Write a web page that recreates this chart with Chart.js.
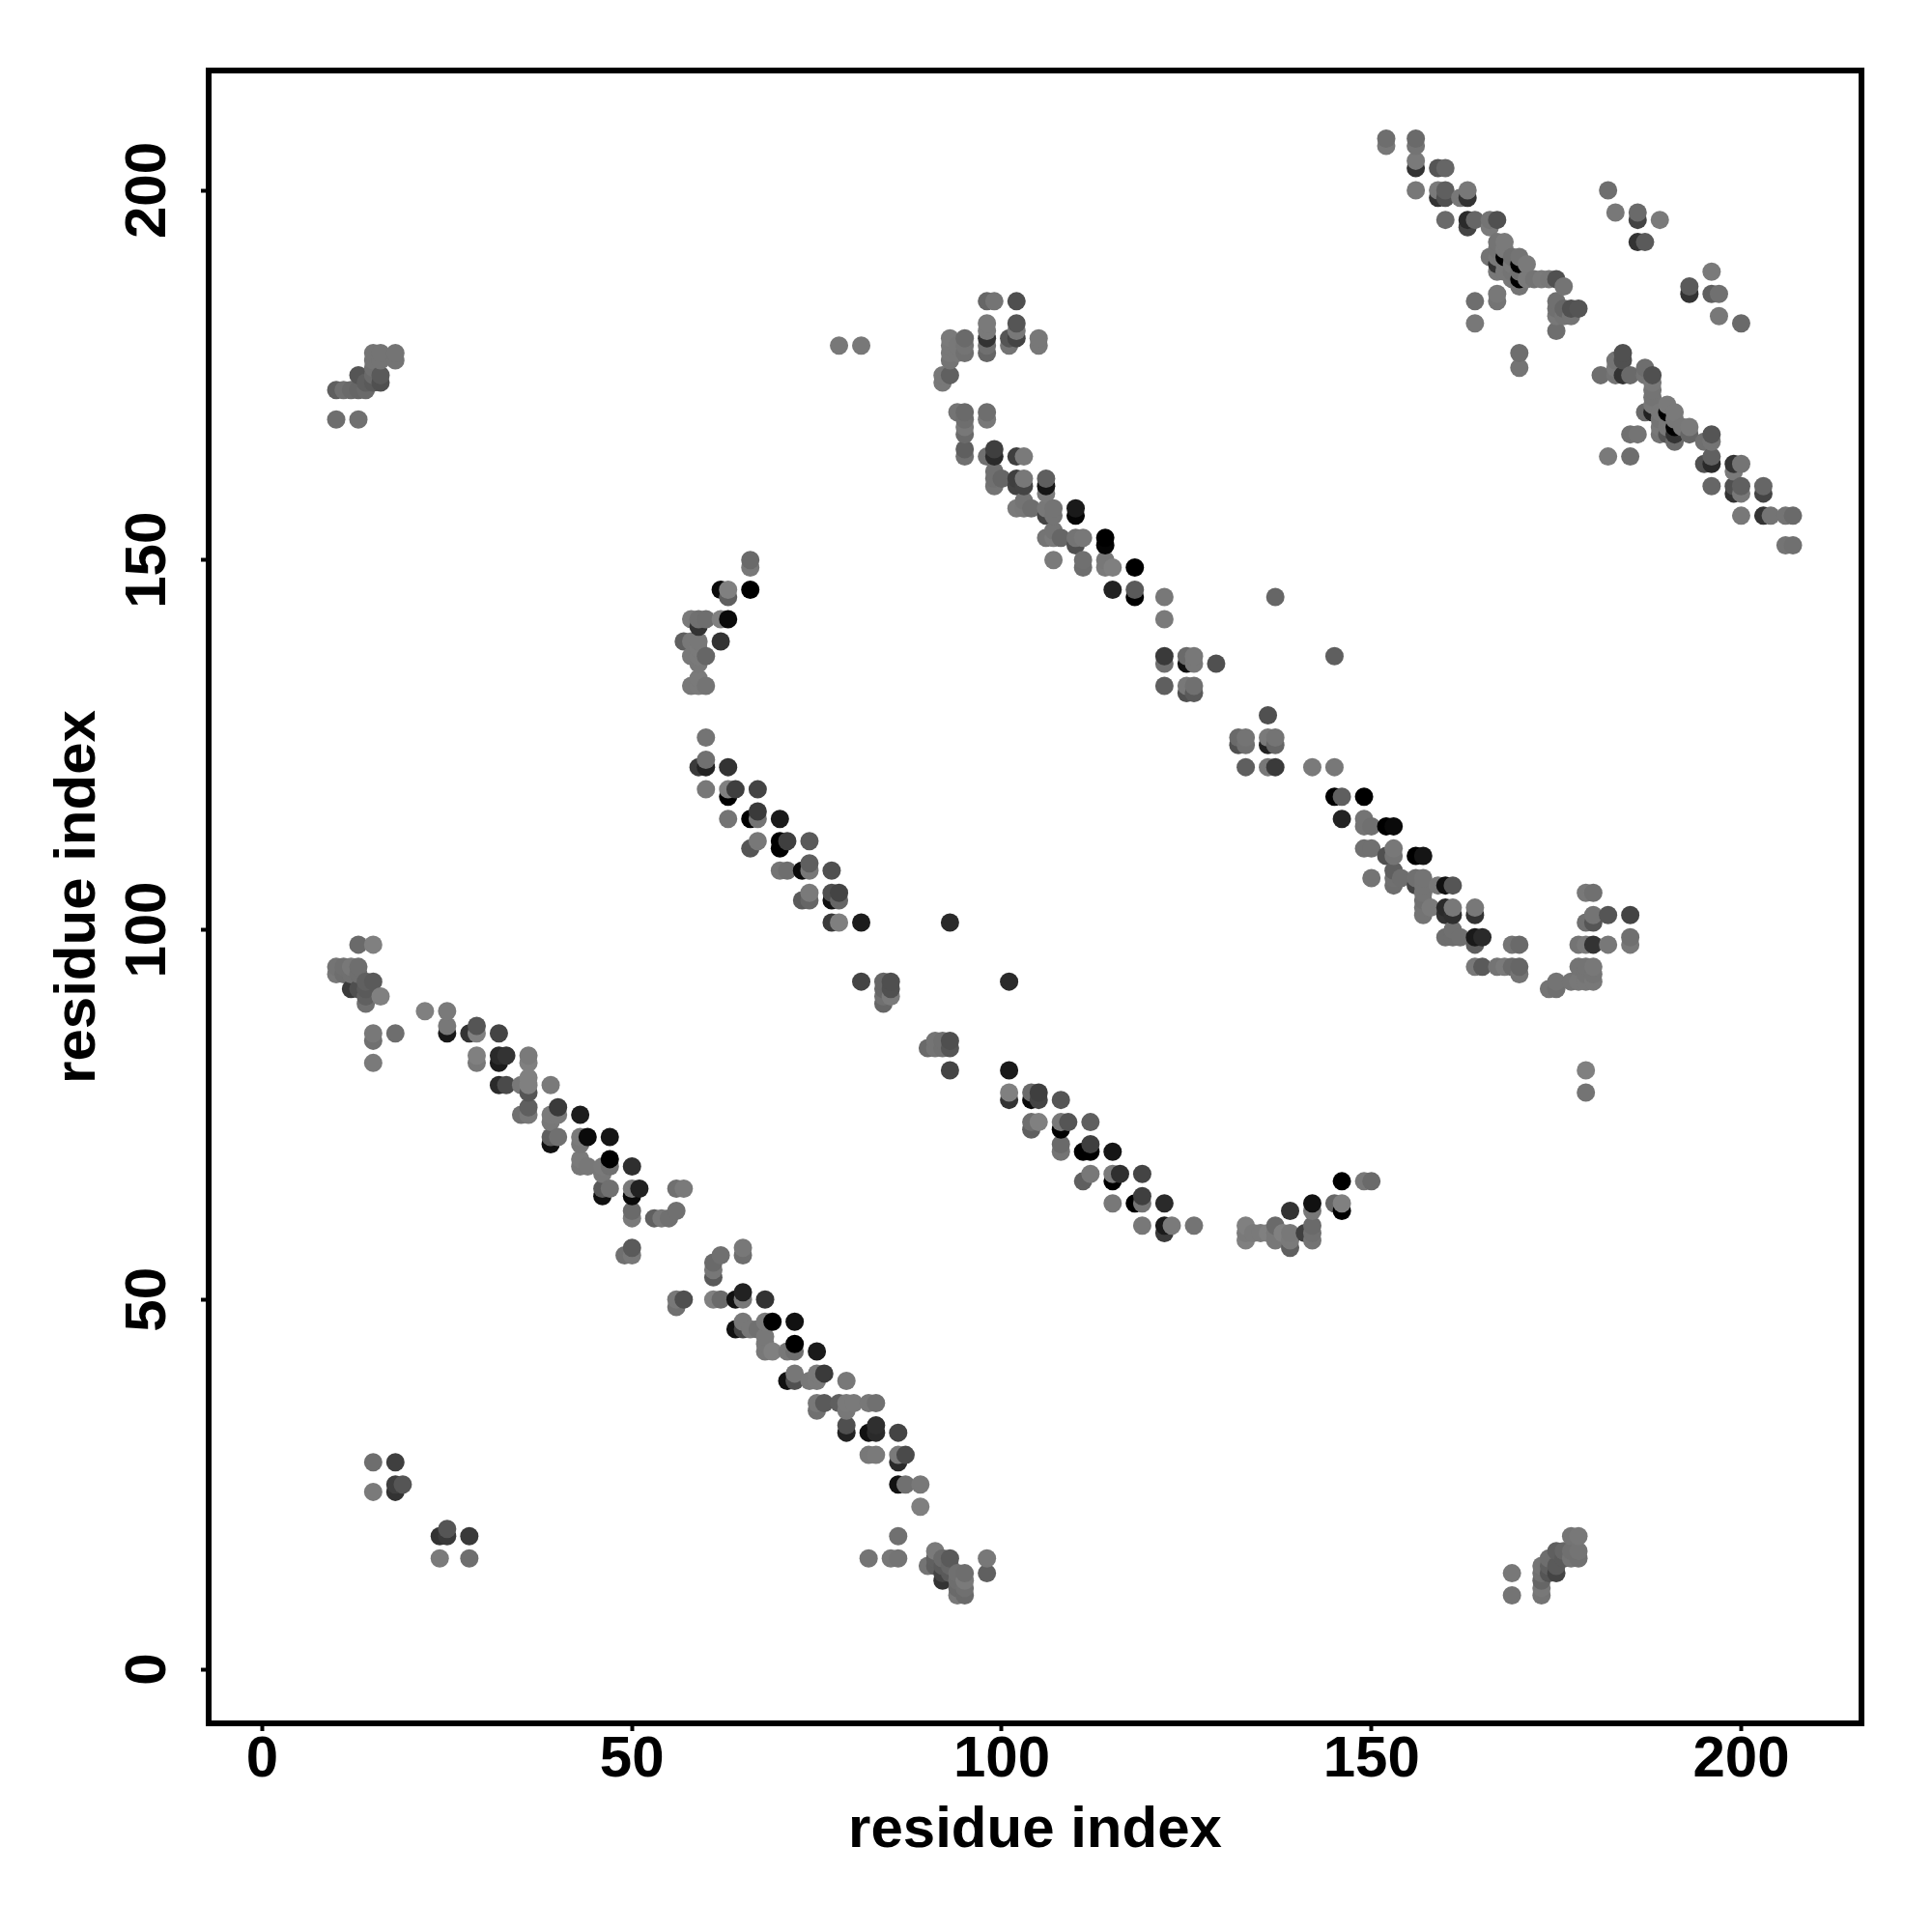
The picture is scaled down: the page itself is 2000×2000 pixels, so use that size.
<!DOCTYPE html>
<html>
<head>
<meta charset="utf-8">
<style>
  html, body { margin: 0; padding: 0; background: #fff; }
  canvas { display: block; }
</style>
<script src="https://cdn.jsdelivr.net/npm/chart.js@4"></script>
</head>
<body>
<canvas id="contactMap" width="2000" height="2000"></canvas>
<script>
// contacts: [residue i, residue j, grey level]
const firstBand = [
  [13,98,0x6a],[15,98,0x80],[10,95,0x74],[11,95,0x70],[12,95,0x78],[13,95,0x6e],[10,94,0x78],[11,94,0x6e],[12,94,0x70],[13,94,0x6e],
  [14,93,0x60],[15,93,0x5a],[12,92,0x3a],[13,92,0x4f],[14,92,0x5a],[14,91,0x60],[16,91,0x80],[14,90,0x70],
  [22,89,0x80],[25,89,0x7a],[25,87,0x78],[25,86,0x18],[28,86,0x33],[29,86,0x80],[29,87,0x55],[32,86,0x44],
  [15,86,0x78],[15,85,0x70],[18,86,0x6e],[15,82,0x7a],[29,83,0x80],[29,82,0x78],[32,83,0x2a],[32,82,0x1c],[33,83,0x33],
  [36,83,0x7a],[36,82,0x80],[32,79,0x2a],[33,79,0x4a],[36,80,0x80],[36,79,0x80],[35,79,0x78],[39,79,0x7a],[36,78,0x55],
  [36,76,0x5f],[35,75,0x70],[36,75,0x78],[40,76,0x3a],[39,75,0x7a],[40,75,0x7a],[39,74,0x78],[43,75,0x1c],
  [39,72,0x5f],[40,72,0x70],[39,71,0x11],[43,72,0x7a],[43,71,0x77],[44,72,0x0a],[47,72,0x15],[47,69,0x00],[43,69,0x7a],
  [43,68,0x77],[44,68,0x78],[46,68,0x7a],[47,68,0x70],[46,67,0x78],[50,68,0x2f],[46,65,0x5a],[47,65,0x70],[46,64,0x10],
  [50,65,0x7a],[51,65,0x22],[50,64,0x0a],[56,65,0x70],[57,65,0x7a],[50,62,0x6a],[50,61,0x7a],[53,61,0x60],[54,61,0x78],
  [55,61,0x70],[56,62,0x70],[50,57,0x5a],[49,56,0x70],[50,56,0x78],[56,50,0x78],[56,49,0x70],[57,50,0x4f],[61,50,0x80],[62,50,0x6a],
  [61,53,0x5a],[61,54,0x77],[61,55,0x6a],[62,56,0x70]
];

const secondBand = [
  [65,57,0x78],[65,56,0x6e],[65,51,0x22],[64,50,0x11],[65,50,0x78],[68,50,0x33],[64,46,0x11],[65,47,0x78],[65,46,0x44],[66,46,0x78],
  [68,47,0x7a],[67,46,0x70],[69,47,0x00],[72,47,0x11],[68,45,0x78],[68,44,0x78],[68,43,0x78],[69,43,0x80],[71,43,0x78],[72,44,0x00],
  [72,43,0x70],[75,43,0x1a],[72,40,0x77],[71,39,0x11],[72,39,0x50],[74,39,0x78],[75,40,0x7a],[75,39,0x7a],[76,40,0x3a],[79,39,0x78],
  [75,36,0x78],[75,35,0x70],[76,36,0x5a],[78,36,0x5f],[79,36,0x7a],[80,36,0x7a],[79,35,0x78],[82,36,0x78],[83,36,0x70],
  [79,33,0x4f],[79,32,0x22],[82,32,0x11],[83,33,0x2f],[83,32,0x2a],[86,32,0x44],[82,29,0x78],[83,29,0x7a],[86,29,0x7a],[87,29,0x4a],[86,28,0x2a],
  [86,25,0x11],[87,25,0x70],[89,25,0x78],[89,22,0x7f],[86,18,0x70],[82,15,0x74],[85,15,0x78],[86,15,0x74],
  [91,16,0x7a],[90,14,0x74],[91,15,0x60],[91,14,0x5f],[92,15,0x6a],[93,15,0x5a],[92,13,0x44],[92,12,0x33],[92,14,0x5a],[93,14,0x66],[93,13,0x5a],
  [95,13,0x6e],[94,13,0x70],[94,12,0x6e],[95,12,0x7a],[94,11,0x6a],[95,11,0x70],[94,10,0x78],[95,10,0x6a],[98,15,0x78],[98,13,0x60]
];

const cornerPatches = [
  [15,28,0x6e],[18,28,0x3f],[15,24,0x7a],[18,24,0x33],[18,25,0x3f],[19,25,0x55],[24,18,0x33],[25,18,0x3a],[25,19,0x55],[28,18,0x3a],[24,15,0x7a],[28,15,0x6e],
  [169,13,0x78],[169,10,0x74],[173,10,0x74],[173,11,0x78],[173,12,0x66],[173,13,0x70],[173,14,0x74],[174,15,0x6e],[174,14,0x5f],[174,13,0x55],
  [175,16,0x5f],[175,14,0x5a],[175,13,0x44],[176,16,0x66],[176,15,0x5a],[177,16,0x70],[177,15,0x74],[177,18,0x74],[178,18,0x78],[178,16,0x74],[178,15,0x70],
  [10,173,0x5f],[11,173,0x70],[12,173,0x6a],[13,173,0x66],[14,173,0x6a],[13,175,0x55],[14,174,0x5f],[15,175,0x6a],[16,174,0x50],[16,175,0x5a],[15,174,0x5a],
  [15,176,0x70],[15,177,0x74],[15,178,0x74],[16,178,0x74],[16,177,0x74],[18,178,0x74],[18,177,0x74],[10,169,0x6e],[13,169,0x70],
  [78,179,0x78],[81,179,0x78]
];

const curveMiddle = [
  [66,150,0x6a],[66,149,0x78],[62,146,0x0a],[63,146,0x80],[63,145,0x5f],[66,146,0x00],[58,142,0x7a],[59,142,0x70],[60,142,0x6e],[62,142,0x80],[63,142,0x0a],[59,141,0x33],
  [57,139,0x5f],[58,139,0x78],[59,139,0x78],[62,139,0x33],[58,137,0x78],[59,137,0x7a],[60,137,0x66],[59,138,0x7a],[59,136,0x78],[59,134,0x7a],[58,133,0x78],[59,133,0x7a],[60,133,0x74],
  [60,126,0x74],[60,123,0x70],[59,122,0x3a],[60,122,0x22],[63,122,0x33],[60,119,0x78],[63,119,0x80],[64,119,0x3f],[63,118,0x00],[67,119,0x44],
  [63,115,0x74],[66,115,0x00],[67,116,0x3a],[67,115,0x74],[70,115,0x1a],[67,112,0x78],[66,111,0x55],[70,112,0x00],[71,112,0x3f],[70,111,0x00],[74,112,0x5a],
  [70,108,0x74],[71,108,0x6e],[73,108,0x0a],[74,109,0x5f],[74,108,0x78],[77,108,0x50],[74,105,0x7a],[73,104,0x5a],[74,104,0x66],[77,105,0x4f],[78,105,0x44],[77,104,0x11],[78,104,0x66],
  [77,101,0x3a],[78,101,0x7f],[81,101,0x1c],[93,101,0x2a],
  [81,93,0x44],[84,93,0x66],[85,93,0x4f],[101,93,0x2a],[84,92,0x66],[85,92,0x50],[85,91,0x7a],[84,91,0x70],[84,90,0x66],
  [92,85,0x70],[93,85,0x4f],[91,85,0x74],[90,84,0x6a],[91,84,0x74],[92,84,0x70],[93,84,0x55],[93,81,0x44],[101,81,0x1a],
  [101,78,0x80],[101,77,0x33],[104,78,0x6a],[104,77,0x0a],[105,78,0x3f],[105,77,0x44],[108,77,0x55],[104,74,0x6e],[105,74,0x80],[104,73,0x5f],[108,74,0x78],[109,74,0x55],[108,73,0x00],[112,74,0x5f],
  [108,71,0x6a],[108,70,0x74],[111,70,0x00],[112,71,0x3f],[112,70,0x00],[115,70,0x15],[112,67,0x78],[111,66,0x5f],[115,67,0x7a],[116,67,0x2f],[115,66,0x00],[119,67,0x44],
  [115,63,0x78],[118,63,0x00],[119,64,0x3f],[119,63,0x74],[122,63,0x2a],[119,60,0x78],[122,60,0x1a],[123,60,0x7a],[122,59,0x3a],[126,60,0x74],
  [133,60,0x80],[133,59,0x7a],[133,58,0x80],[134,59,0x7a],[135,59,0x7a],[136,59,0x80],[137,60,0x6a],[137,59,0x78],[137,58,0x78],[138,59,0x80],[139,62,0x33],[139,59,0x78],[139,58,0x7a],[139,57,0x5f],
  [141,59,0x3f],[142,63,0x11],[142,62,0x78],[142,60,0x6a],[142,59,0x70],[142,58,0x74],[145,63,0x66],[146,63,0x80],[146,62,0x00],[146,66,0x00],[149,66,0x78],[150,66,0x6a],
  [179,81,0x80],[179,78,0x74]
];

const curveUpper = [
  [98,185,0x66],[99,185,0x74],[102,185,0x4f],[98,182,0x7a],[98,181,0x7a],[102,182,0x55],[102,181,0x78],[98,180,0x33],[101,180,0x55],[102,180,0x44],[105,180,0x78],[105,179,0x78],
  [101,179,0x74],[98,179,0x70],[98,178,0x66],[93,180,0x7a],[95,180,0x6a],[93,179,0x78],[94,179,0x78],[95,179,0x74],[93,178,0x78],[94,178,0x78],[95,178,0x70],[93,177,0x74],
  [92,175,0x78],[93,175,0x60],[92,174,0x78],[94,170,0x74],[95,170,0x6a],[98,170,0x6e],[98,169,0x78],[95,169,0x6e],[95,168,0x78],[95,167,0x6a],[95,165,0x5f],[95,164,0x70],
  [98,164,0x70],[99,165,0x3f],[99,164,0x2a],[102,164,0x3f],[103,164,0x7a],[99,162,0x70],[99,161,0x70],[99,160,0x74],[100,161,0x66],[102,161,0x3f],[102,160,0x44],[103,161,0x78],[103,160,0x44],
  [106,161,0x5f],[106,160,0x15],[106,159,0x7a],[103,158,0x74],[102,157,0x7a],[103,157,0x78],[104,157,0x6e],[106,157,0x78],[107,157,0x74],[106,156,0x44],[107,156,0x74],[110,157,0x1a],[110,156,0x05],
  [107,154,0x74],[106,153,0x74],[107,153,0x7a],[108,153,0x66],[110,153,0x74],[111,153,0x78],[110,152,0x50],[114,153,0x00],[114,152,0x05],[107,150,0x7a],[111,150,0x70],[111,149,0x6e],
  [114,150,0x78],[114,149,0x7a],[115,149,0x7f],[118,149,0x00],[115,146,0x22],[118,146,0x5a],[118,145,0x00],[122,145,0x78],[122,142,0x7a],[137,145,0x66],
  [122,137,0x3a],[122,136,0x70],[125,137,0x6a],[126,137,0x78],[125,136,0x11],[126,136,0x78],[129,136,0x50],[145,137,0x5f],[122,133,0x5f],[125,133,0x78],[126,133,0x70],[125,132,0x50],[126,132,0x5a],
  [136,129,0x50],[132,126,0x6a],[133,126,0x74],[132,125,0x50],[133,125,0x70],[136,126,0x7a],[137,126,0x74],[136,125,0x22],[137,125,0x66],[133,122,0x5f],[136,122,0x78],[137,122,0x3a],[142,122,0x7a],[145,122,0x78],
  [145,118,0x00],[146,118,0x5f],[149,118,0x00],[146,115,0x22],[149,115,0x74],[149,114,0x74],[150,114,0x70],[152,114,0x00],[153,114,0x0a],[149,111,0x70],[150,111,0x70],[152,110,0x50],[153,111,0x78],[153,110,0x74],[156,110,0x00],[157,110,0x15],
  [150,107,0x74],[153,108,0x5f],[153,107,0x70],[154,107,0x6e],[153,106,0x6e],[156,107,0x70],[157,107,0x74],[156,106,0x44],[157,106,0x74],[159,106,0x78],[160,106,0x11],[161,106,0x55],
  [157,105,0x74],[157,104,0x70],[158,103,0x7a],[157,103,0x74],[157,102,0x74],[160,103,0x2a],[161,103,0x78],[160,102,0x33],[161,102,0x2f],[164,103,0x78],[164,102,0x33],
  [161,100,0x70],[160,99,0x6e],[161,99,0x6e],[162,99,0x70],[164,99,0x1a],[165,99,0x2a],[164,98,0x5f],[169,98,0x74],[170,98,0x6a],
  [164,95,0x78],[165,95,0x5a],[167,95,0x74],[168,95,0x7a],[169,95,0x6a],[170,95,0x66],[170,94,0x74],[174,92,0x74],[175,92,0x70],[175,93,0x74],
  [177,93,0x74],[178,93,0x78],[178,98,0x74],[178,95,0x74],[179,98,0x7a],[180,98,0x33],[182,98,0x78],[179,105,0x78],[180,105,0x70],[179,101,0x70],[180,101,0x55],[180,102,0x74],[182,102,0x55],[185,102,0x44],
  [185,99,0x70],[185,98,0x78],[179,95,0x74],[180,95,0x78],[179,94,0x74],[180,94,0x74],[179,93,0x78],[180,93,0x78]
];

const topDiagonal = [
  [152,207,0x6e],[152,206,0x78],[156,207,0x6a],[156,206,0x74],[156,204,0x7a],[156,203,0x33],[159,203,0x55],[160,203,0x66],[156,200,0x78],[159,200,0x7a],[159,199,0x33],[160,200,0x5f],[160,199,0x50],
  [162,199,0x78],[163,200,0x78],[163,199,0x33],[160,196,0x6a],[163,196,0x2a],[164,196,0x66],[163,195,0x44],[166,196,0x74],[167,196,0x50],[166,195,0x7a],
  [182,200,0x6e],[183,197,0x78],[186,197,0x6a],[186,196,0x44],[189,196,0x7a],[186,193,0x33],[187,193,0x5a],
  [167,193,0x74],[168,193,0x7a],[167,192,0x74],[166,191,0x74],[167,191,0x78],[168,192,0x7a],[167,190,0x33],[168,190,0x78],[168,191,0x00],[167,189,0x78],[168,189,0x78],[169,191,0x70],[170,191,0x74],[170,190,0x00],[171,190,0x7a],[169,190,0x78],[169,189,0x74],[170,189,0x70],
  [170,188,0x00],[170,187,0x74],[171,188,0x7a],[169,188,0x78],[172,188,0x74],[173,188,0x7a],[174,188,0x78],[175,188,0x50],[176,187,0x74],
  [175,185,0x70],[175,184,0x70],[177,184,0x50],[178,184,0x55],[176,184,0x66],[175,183,0x78],[177,183,0x74],[176,183,0x74],[175,181,0x6e],
  [167,186,0x78],[167,185,0x74],[164,185,0x6e],[164,182,0x78],[170,178,0x6e],[170,176,0x74],
  [196,189,0x7a],[193,187,0x5a],[193,186,0x33],[196,186,0x5f],[197,186,0x70],[197,183,0x78],[200,182,0x6a]
];

const rightDiagonal = [
  [184,178,0x50],[183,177,0x74],[184,177,0x50],[183,176,0x7a],[181,175,0x6e],[183,175,0x74],[184,175,0x33],[185,175,0x6a],[187,176,0x6e],[187,175,0x74],[188,175,0x50],
  [188,174,0x78],[188,173,0x74],[188,172,0x74],[187,170,0x6a],[188,171,0x78],[188,170,0x22],[190,171,0x7a],[191,170,0x7a],[190,170,0x00],[189,170,0x78],[189,169,0x74],[189,168,0x78],[190,169,0x78],[190,168,0x78],
  [191,169,0x78],[191,168,0x00],[191,167,0x33],[189,167,0x74],[190,167,0x55],[191,166,0x6a],[192,168,0x78],[193,168,0x7a],[193,167,0x66],[185,167,0x70],[186,167,0x74],[182,164,0x7a],[185,164,0x6e],
  [196,167,0x55],[196,166,0x74],[195,166,0x70],[196,164,0x60],[195,163,0x50],[196,163,0x2a],[199,163,0x33],[200,163,0x74],[199,162,0x7a],[196,160,0x66],[199,160,0x50],[200,160,0x60],[199,159,0x33],[200,159,0x78],
  [203,160,0x66],[203,159,0x44],[200,156,0x78],[203,156,0x33],[204,156,0x74],[206,156,0x74],[207,156,0x6a],[206,152,0x74],[207,152,0x70]
];

const tickValues = [0, 50, 100, 150, 200];
const axisLabel = 'residue index';

// R draws in order of i then j, so the later dots sit on top
const contacts = [...firstBand, ...secondBand, ...cornerPatches, ...curveMiddle, ...curveUpper, ...topDiagonal, ...rightDiagonal]
  .sort((a, b) => a[0] - b[0] || a[1] - b[1]);

const labelFont = { family: '"Liberation Sans"', size: 60, weight: 'bold' };

const plotBox = {
  id: 'plotBox',
  afterDraw(chart) {
    const { ctx, chartArea: a } = chart;
    ctx.save();
    ctx.strokeStyle = '#000';
    ctx.lineWidth = 6;
    ctx.lineJoin = 'miter';
    ctx.strokeRect(a.left, a.top, a.right - a.left, a.bottom - a.top);
    ctx.restore();
  }
};

const ctx = document.getElementById('contactMap').getContext('2d');
new Chart(ctx, {
  type: 'scatter',
  data: {
    datasets: [{
      data: contacts.map(c => ({ x: c[0], y: c[1] })),
      pointRadius: 9.5,
      pointBorderWidth: 0,
      pointBackgroundColor: contacts.map(c => `rgb(${c[2]},${c[2]},${c[2]})`)
    }]
  },
  plugins: [plotBox],
  options: {
    responsive: false,
    animation: false,
    layout: { padding: { top: 73, right: 73, left: 0, bottom: 0 } },
    plugins: { legend: { display: false }, tooltip: { enabled: false } },
    scales: {
      x: {
        type: 'linear',
        min: -7.25,
        max: 216.27,
        afterBuildTicks: s => { s.ticks = tickValues.map(v => ({ value: v })); },
        afterFit: s => { s.height = 216; },
        grid: { drawOnChartArea: false, tickLength: 8, tickWidth: 4, tickColor: '#000' },
        border: { display: false },
        ticks: { color: '#000', font: labelFont, padding: -6, maxRotation: 0, minRotation: 0 },
        title: { display: true, text: axisLabel, color: '#000', font: labelFont, padding: { top: 0, bottom: 69 } }
      },
      y: {
        type: 'linear',
        min: -7.3,
        max: 216.2,
        afterBuildTicks: s => { s.ticks = tickValues.map(v => ({ value: v })); },
        afterFit: s => { s.width = 216; },
        grid: { drawOnChartArea: false, tickLength: 8, tickWidth: 4, tickColor: '#000' },
        border: { display: false },
        ticks: { color: '#000', font: labelFont, padding: 3, minRotation: 90, maxRotation: 90, crossAlign: 'center' },
        title: { display: true, text: axisLabel, color: '#000', font: labelFont, padding: { top: 45, bottom: 0 } }
      }
    }
  }
});
</script>
</body>
</html>
